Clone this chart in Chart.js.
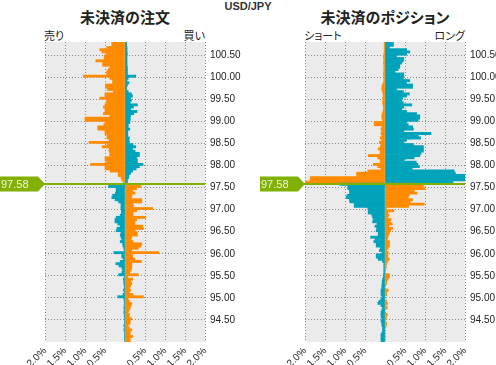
<!DOCTYPE html>
<html><head><meta charset="utf-8">
<script src="https://cdn.jsdelivr.net/npm/chart.js@4.4.1/dist/chart.umd.min.js"></script>
<style>
body{margin:0;background:#fff;width:496px;height:365px;overflow:hidden;position:relative;}
canvas{position:absolute;top:0;}
.t{position:absolute;white-space:nowrap;color:#222;font-family:"Noto Sans CJK JP",sans-serif;font-feature-settings:"palt";line-height:1;}
</style></head><body>
<div class="t" style="left:0;width:496px;text-align:center;top:1px;font-family:'Liberation Sans',Arial,sans-serif;font-size:11px;font-weight:bold;color:#333;">USD/JPY</div>
<div class="t" style="left:25px;width:200px;text-align:center;top:9px;font-size:15px;font-weight:bold;">未決済の注文</div>
<div class="t" style="left:285px;width:200px;text-align:center;top:9px;font-size:15px;font-weight:bold;">未決済のポジション</div>
<div class="t" style="left:44px;top:30px;font-size:11px;">売り</div>
<div class="t" style="left:145px;width:60px;text-align:right;top:30px;font-size:11px;">買い</div>
<div class="t" style="left:304px;top:30px;font-size:11px;">ショート</div>
<div class="t" style="left:405px;width:60px;text-align:right;top:30px;font-size:11px;">ロング</div>
<canvas id="orders" width="250" height="365" style="left:0;width:250px;height:365px;"></canvas>
<canvas id="positions" width="246" height="365" style="left:250px;width:246px;height:365px;"></canvas>
<script>
const currentPrice = 97.58;
const bucketSize = 0.05;
// lower bound of each price bucket (top to bottom)
const priceLevels = [
100.75,100.70,100.65,100.60,100.55,100.50,100.45,100.40,100.35,100.30,
100.25,100.20,100.15,100.10,100.05,100.00,99.95,99.90,99.85,99.80,
99.75,99.70,99.65,99.60,99.55,99.50,99.45,99.40,99.35,99.30,
99.25,99.20,99.15,99.10,99.05,99.00,98.95,98.90,98.85,98.80,
98.75,98.70,98.65,98.60,98.55,98.50,98.45,98.40,98.35,98.30,
98.25,98.20,98.15,98.10,98.05,98.00,97.95,97.90,97.85,97.80,
97.75,97.70,97.65,97.60,97.55,97.50,97.45,97.40,97.35,97.30,
97.25,97.20,97.15,97.10,97.05,97.00,96.95,96.90,96.85,96.80,
96.75,96.70,96.65,96.60,96.55,96.50,96.45,96.40,96.35,96.30,
96.25,96.20,96.15,96.10,96.05,96.00,95.95,95.90,95.85,95.80,
95.75,95.70,95.65,95.60,95.55,95.50,95.45,95.40,95.35,95.30,
95.25,95.20,95.15,95.10,95.05,95.00,94.95,94.90,94.85,94.80,
94.75,94.70,94.65,94.60,94.55,94.50,94.45,94.40,94.35,94.30,
94.25,94.20,94.15,94.10,94.05,94.00];

// 未決済の注文 — 売り side (%)
const orderSell = [
0.33,0.33,0.46,0.63,0.58,0.46,0.52,0.52,0.73,0.56,
0.56,0.38,0.42,0.46,0.46,1.04,0.38,0.31,0.31,0.49,
0.49,0.44,0.29,0.50,0.50,0.63,0.46,0.46,0.50,0.54,
0.50,0.50,0.54,0.38,1.00,1.00,0.50,0.53,0.68,0.68,
0.50,0.50,0.45,0.45,0.40,0.90,0.45,0.57,0.40,0.40,
0.38,0.38,0.50,0.50,0.45,0.86,0.50,0.50,0.37,0.17,
0.17,0.10,0.08,0.04,0.02,0.41,0.22,0.22,0.24,0.31,
0.33,0.25,0.16,0.10,0.10,0.10,0.09,0.09,0.12,0.22,
0.25,0.25,0.18,0.12,0.20,0.22,0.10,0.12,0.10,0.08,
0.12,0.06,0.05,0.03,0.02,0.28,0.08,0.08,0.04,0.12,
0.23,0.15,0.08,0.06,0.08,0.16,0.01,0.04,0.03,0.03,
0.02,0.02,0.04,0.02,0.05,0.18,0.03,0.02,0.02,0.02,
0.03,0.02,0.03,0.02,0.02,0.01,0.01,0.01,0.03,0.01,
0.03,0.01,0.01,0.01,0.01,0.01];

// 未決済の注文 — 買い side (%)
const orderBuy = [
0.04,0.04,0.05,0.05,0.05,0.06,0.05,0.05,0.05,0.05,
0.05,0.06,0.06,0.06,0.06,0.27,0.08,0.05,0.10,0.06,
0.04,0.04,0.08,0.16,0.19,0.14,0.16,0.13,0.31,0.21,
0.14,0.30,0.22,0.14,0.13,0.13,0.12,0.08,0.08,0.12,
0.07,0.07,0.07,0.11,0.10,0.11,0.20,0.27,0.19,0.25,
0.36,0.36,0.29,0.31,0.31,0.45,0.36,0.28,0.19,0.14,
0.10,0.09,0.06,0.06,0.05,0.40,0.29,0.19,0.25,0.17,
0.17,0.42,0.42,0.21,0.21,0.69,0.29,0.20,0.20,0.52,
0.29,0.25,0.25,0.44,0.46,0.25,0.31,0.31,0.17,0.15,
0.20,0.42,0.40,0.33,0.17,0.84,0.19,0.19,0.25,0.41,
0.17,0.17,0.17,0.15,0.12,0.33,0.07,0.19,0.15,0.17,
0.14,0.11,0.14,0.11,0.20,0.46,0.08,0.11,0.17,0.15,
0.13,0.11,0.08,0.11,0.11,0.17,0.13,0.13,0.08,0.11,
0.17,0.13,0.13,0.19,0.13,0.13];

// 未決済のポジション — ショート (%)
const positionShort = [
0.02,0.02,0.02,0.02,0.02,0.03,0.04,0.03,0.03,0.04,
0.03,0.03,0.03,0.03,0.04,0.03,0.03,0.03,0.04,0.07,
0.08,0.08,0.06,0.05,0.04,0.06,0.05,0.06,0.05,0.04,
0.04,0.05,0.07,0.08,0.08,0.06,0.27,0.27,0.08,0.10,
0.08,0.10,0.08,0.12,0.08,0.14,0.10,0.12,0.17,0.12,
0.12,0.42,0.18,0.12,0.12,0.29,0.18,0.10,0.43,0.71,
0.71,1.87,1.87,2.05,1.12,0.93,0.93,0.89,0.89,0.95,
0.97,0.89,0.88,0.77,0.77,0.43,0.42,0.42,0.33,0.31,
0.29,0.31,0.20,0.25,0.21,0.22,0.17,0.17,0.36,0.25,
0.28,0.22,0.22,0.12,0.14,0.08,0.22,0.22,0.17,0.06,
0.03,0.03,0.03,0.03,0.03,0.04,0.04,0.06,0.07,0.07,
0.08,0.08,0.10,0.10,0.10,0.08,0.10,0.15,0.18,0.10,
0.06,0.08,0.10,0.10,0.10,0.08,0.10,0.08,0.08,0.06,
0.06,0.07,0.10,0.10,0.10,0.10];

// 未決済のポジション — ロング (%)
const positionLong = [
0.21,0.21,0.11,0.54,0.62,0.54,0.29,0.47,0.46,0.42,
0.37,0.37,0.33,0.25,0.47,0.47,0.46,0.62,0.54,0.69,
0.69,0.29,0.46,0.61,0.54,0.44,0.42,0.46,0.67,0.47,
0.42,0.54,0.79,0.87,0.87,0.83,0.54,0.58,0.69,0.71,
0.47,1.15,0.83,0.89,0.54,0.47,0.71,0.96,0.96,0.96,
0.90,0.87,0.73,0.48,0.78,0.82,0.86,0.68,1.73,1.76,
2.05,2.05,2.05,1.70,0.73,0.96,1.00,0.73,0.80,0.61,
0.58,0.69,0.63,0.98,0.59,0.04,0.22,0.07,0.10,0.07,
0.15,0.13,0.18,0.10,0.19,0.14,0.11,0.09,0.07,0.06,
0.11,0.11,0.11,0.08,0.04,0.08,0.07,0.07,0.11,0.06,
0.04,0.03,0.03,0.00,0.00,0.11,0.11,0.08,0.04,0.04,
0.00,0.00,0.08,0.04,0.04,0.00,0.00,0.04,0.06,0.03,
0.06,0.00,0.00,0.06,0.04,0.03,0.00,0.04,0.03,0.00,
0.00,0.00,0.00,0.00,0.00,0.00];

const xTickValues = [-2, -1.5, -1, -0.5, 0, 0.5, 1, 1.5, 2];
const yTickValues = [94.5, 95.0, 95.5, 96.0, 96.5, 97.0, 97.5, 98.0, 98.5, 99.0, 99.5, 100.0, 100.5];
const priceMin = 94.0, priceMax = 100.8;

const ORANGE = '#ff8c00';
const TEAL = '#00a3b9';
const GREEN = '#80b000';
const PLOT_BG = '#ebebeb';

Chart.defaults.font.family = '"Liberation Sans", Arial, sans-serif';

const bgPlugin = {
  id: 'plotBg',
  beforeDraw(chart) {
    const a = chart.chartArea, ctx = chart.ctx;
    ctx.save();
    ctx.fillStyle = PLOT_BG;
    ctx.fillRect(a.left, a.top, a.right - a.left, a.bottom - a.top);
    ctx.restore();
  }
};

const pricePlugin = {
  id: 'priceTag',
  afterDatasetsDraw(chart) {
    const a = chart.chartArea, ctx = chart.ctx;
    const y = chart.scales.y.getPixelForValue(currentPrice);
    ctx.save();
    ctx.strokeStyle = GREEN;
    ctx.lineWidth = 2;
    ctx.beginPath();
    ctx.moveTo(a.left - 1, y);
    ctx.lineTo(a.right, y);
    ctx.stroke();
    const x0 = a.left - 45;
    ctx.fillStyle = GREEN;
    ctx.beginPath();
    ctx.moveTo(x0, y - 7.5);
    ctx.lineTo(x0 + 38, y - 7.5);
    ctx.lineTo(x0 + 45, y);
    ctx.lineTo(x0 + 38, y + 7.5);
    ctx.lineTo(x0, y + 7.5);
    ctx.closePath();
    ctx.fill();
    ctx.fillStyle = '#f2f7e6';
    ctx.font = '11px "Liberation Sans", Arial, sans-serif';
    ctx.textBaseline = 'middle';
    ctx.textAlign = 'left';
    ctx.fillText(currentPrice.toFixed(2), x0 + 1, y + 0.5);
    ctx.restore();
  }
};

function zeroPad(s) { s.paddingTop = 0; s.paddingBottom = 0; s.paddingLeft = 0; s.paddingRight = 0; }

function makeChart(id, leftVals, rightVals, padLeft, yWidth) {
  const centre = priceLevels.map(p => p + bucketSize / 2);
  const leftData = leftVals.map((v, i) => ({ x: -v, y: centre[i] }));
  const rightData = rightVals.map((v, i) => ({ x: v, y: centre[i] }));
  const leftColors = priceLevels.map(p => p >= currentPrice ? ORANGE : TEAL);
  const rightColors = priceLevels.map(p => p >= currentPrice ? TEAL : ORANGE);
  const ds = (data, colors) => ({
    data, backgroundColor: colors, borderWidth: 0, grouped: false,
    barPercentage: 1, categoryPercentage: 1
  });
  return new Chart(document.getElementById(id), {
    type: 'bar',
    data: { datasets: [ds(leftData, leftColors), ds(rightData, rightColors)] },
    options: {
      indexAxis: 'y',
      responsive: false,
      animation: false,
      devicePixelRatio: 1,
      layout: { autoPadding: false, padding: { left: padLeft, top: 42, right: 0, bottom: 0 } },
      plugins: { legend: { display: false }, tooltip: { enabled: false }, title: { display: false } },
      scales: {
        x: {
          type: 'linear', position: 'bottom', min: -2, max: 2, offset: false,
          afterBuildTicks: s => { s.ticks = xTickValues.map(v => ({ value: v })); },
          grid: { color: '#8c8c8c', lineWidth: 1, drawTicks: false, offset: false },
          border: { display: false, dash: [1, 2] },
          ticks: {
            autoSkip: false, maxRotation: 45, minRotation: 45, padding: 3,
            color: '#222', font: { size: 10 },
            callback: v => v === 0 ? '' : Math.abs(v).toFixed(1) + '%'
          },
          afterFit: s => { s.height = 23; zeroPad(s); }
        },
        y: {
          type: 'linear', position: 'right', min: priceMin, max: priceMax, offset: false,
          afterBuildTicks: s => { s.ticks = yTickValues.map(v => ({ value: v })); },
          grid: { color: '#8c8c8c', lineWidth: 1, drawTicks: false, offset: false },
          border: { display: false, dash: [1, 2] },
          ticks: { padding: 5, color: '#222', font: { size: 10 }, callback: v => Number(v).toFixed(2) },
          afterFit: s => { s.width = yWidth; zeroPad(s); }
        }
      }
    },
    plugins: [bgPlugin, pricePlugin]
  });
}

makeChart('orders', orderSell, orderBuy, 45, 45);
makeChart('positions', positionShort, positionLong, 55, 31);
</script>
</body></html>
